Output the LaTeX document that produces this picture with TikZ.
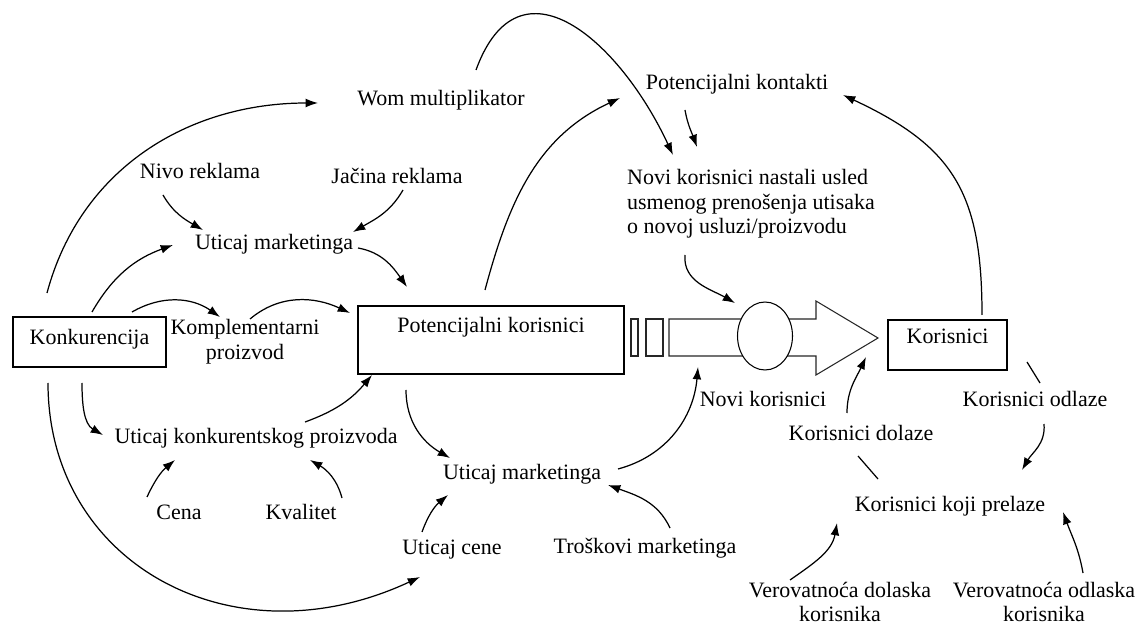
\documentclass[tikz,border=0pt]{standalone}
\usepackage{fontspec}
\setmainfont{Liberation Serif}
\usetikzlibrary{arrows.meta,shapes.geometric}

\begin{document}
\begin{tikzpicture}[
    x=0.02cm, y=0.02cm,
    % Stilovi cvorova
    var/.style={font=\fontsize{12.5}{14}\selectfont, inner sep=2pt},
    stock/.style={draw, line width=0.7pt, inner sep=0pt, font=\fontsize{12.5}{14}\selectfont},
    valve/.style={ellipse, draw, fill=white, line width=0.6pt, minimum width=1.1cm, minimum height=1.36cm},
    % Stilovi veza
    link/.style={line width=0.7pt, -{Latex[length=7pt,width=5pt]}},
    plain link/.style={line width=0.7pt},
    pipe/.style={line width=0.6pt, black!85}
]
\useasboundingbox (0,0) rectangle (1142,-624);

% 1. Zalihe (pravougaonici)
\node[stock, minimum width=3.06cm, text height=0.56cm, text depth=0.44cm] (konk) at (89.5,-342) {Konkurencija};
\node[stock, minimum width=5.32cm, text height=0.54cm, text depth=0.82cm] (potk) at (491,-340) {Potencijalni korisnici};
\node[stock, minimum width=2.38cm, text height=0.48cm, text depth=0.52cm] (kor) at (947.5,-345) {Korisnici};

% 2. Tok sa ventilom
\draw[pipe] (631,-319) rectangle (638,-356);
\draw[pipe] (646,-319) rectangle (663,-356);
\draw[pipe, fill=white] (669,-319) -- (816,-319) -- (816,-301) -- (878,-338)
    -- (816,-375) -- (816,-356) -- (669,-356) -- cycle;
\node[valve] (valve) at (765,-336) {};
\coordinate (shaftin) at (698,-367);
\coordinate (headlow) at (866,-357);

% 3. Pomocne promenljive
\foreach \id/\x/\y/\txt in {
    wom/441/100/Wom multiplikator,
    potkont/737/84/Potencijalni kontakti,
    nivo/200/171/Nivo reklama,
    jacina/397/176/Jačina reklama,
    um1/274/244/Uticaj marketinga,
    ukp/256/438/Uticaj konkurentskog proizvoda,
    cena/179/512/Cena,
    kval/301/512/Kvalitet,
    ucene/452/550/Uticaj cene,
    um2/522/474/Uticaj marketinga,
    trosk/645/548/Troškovi marketinga,
    novikor/763/399/Novi korisnici,
    kdol/861/433/Korisnici dolaze,
    kodl/1035/399/Korisnici odlaze,
    kprel/950/506/Korisnici koji prelaze
}{
    \node[var] (\id) at (\x,-\y) {\txt};
}
\node[var, align=center] (kompl) at (245,-342) {Komplementarni\\proizvod};
\node[var, align=left] (novinast) at (751,-204) {Novi korisnici nastali usled\\usmenog prenošenja utisaka\\o novoj usluzi/proizvodu};
\node[var, align=center] (vdol) at (840,-602) {Verovatnoća dolaska\\korisnika};
\node[var, align=center] (vodl) at (1044,-602) {Verovatnoća odlaska\\korisnika};

% 4. Veze oko konkurencije
\draw[link] ([shift={(-42.5,49)}]konk.center) to[out=75,in=180] ([shift={(-123,-3)}]wom.center);
\draw[link] ([shift={(2.5,30)}]konk.center) to[out=60,in=200] ([shift={(-101,-1)}]um1.center);
\draw[link] ([shift={(42.5,30)}]konk.center) to[out=30,in=145] ([shift={(-25,25)}]kompl.center);
\draw[link] ([shift={(-7.5,-41)}]konk.center) to[out=-90,in=150] ([shift={(-153,3)}]ukp.center);
\draw[link] ([shift={(-41.5,-41)}]konk.center) to[out=-90,in=205,out looseness=1.1,in looseness=1.26] ([shift={(-32,-27)}]ucene.center);

% 5. Marketing i proizvod
\draw[link] ([shift={(-37,-24)}]nivo.center) to[out=-60,in=150] ([shift={(-71,14)}]um1.center);
\draw[link] ([shift={(6,-14)}]jacina.center) to[out=-120,in=30] ([shift={(79,12)}]um1.center);
\draw[link] ([shift={(84,-4)}]um1.center) to[out=-10,in=125] ([shift={(-84,53)}]potk.center);
\draw[link] ([shift={(5,23)}]kompl.center) to[out=40,in=155] ([shift={(-141,27)}]potk.center);
\draw[link] ([shift={(49,16)}]ukp.center) to[out=20,in=-130] ([shift={(-119,-35)}]potk.center);
\draw[link] ([shift={(-32,15)}]cena.center) to[out=65,in=-140] ([shift={(-81,-22)}]ukp.center);
\draw[link] ([shift={(41,14)}]kval.center) to[out=105,in=-30] ([shift={(54,-22)}]ukp.center);
\draw[link] ([shift={(-30,18)}]ucene.center) to[out=70,in=-140] ([shift={(-74,-21)}]um2.center);
\draw[link] ([shift={(-85,-50)}]potk.center) to[out=-90,in=150] ([shift={(-72,16)}]um2.center);
\draw[link] ([shift={(96,5)}]um2.center) to[out=15,in=-95] (shaftin);
\draw[link] ([shift={(25,20)}]trosk.center) to[out=115,in=-20] ([shift={(86,-11)}]um2.center);

% 6. Usmeno prenosenje utisaka
\draw[link] ([shift={(-6,50)}]potk.center) to[out=75,in=205] ([shift={(-117,-14)}]potkont.center);
\draw[link] ([shift={(35,30)}]wom.center) to[out=70,in=115,looseness=1.5] ([shift={(-78,49)}]novinast.center);
\draw[link] ([shift={(-52,-26)}]potkont.center) to[out=-80,in=110] ([shift={(-54,57)}]novinast.center);
\draw[link] ([shift={(-66,-51)}]novinast.center) to[out=-95,in=150] ([shift={(-30,33)}]valve.center);
\draw[link] ([shift={(34.5,30)}]kor.center) to[out=90,in=-25,looseness=1.2] ([shift={(106,-11)}]potkont.center);

% 7. Prelazak korisnika
\draw[plain link] ([shift={(-72,27)}]kprel.center) -- ([shift={(-3,-23)}]kdol.center);
\draw[link] ([shift={(-14,20)}]kdol.center) to[out=90,in=-115] (headlow);
\draw[plain link] ([shift={(79.5,-17)}]kor.center) -- ([shift={(5,16)}]kodl.center);
\draw[link] ([shift={(9,-25)}]kodl.center) to[out=-85,in=60] ([shift={(72,36)}]kprel.center);
\draw[link] ([shift={(-50,22)}]vdol.center) to[out=35,in=-100] ([shift={(-113,-17)}]kprel.center);
\draw[link] ([shift={(39,29)}]vodl.center) to[out=100,in=-70] ([shift={(113,-6)}]kprel.center);

\end{tikzpicture}
\end{document}
